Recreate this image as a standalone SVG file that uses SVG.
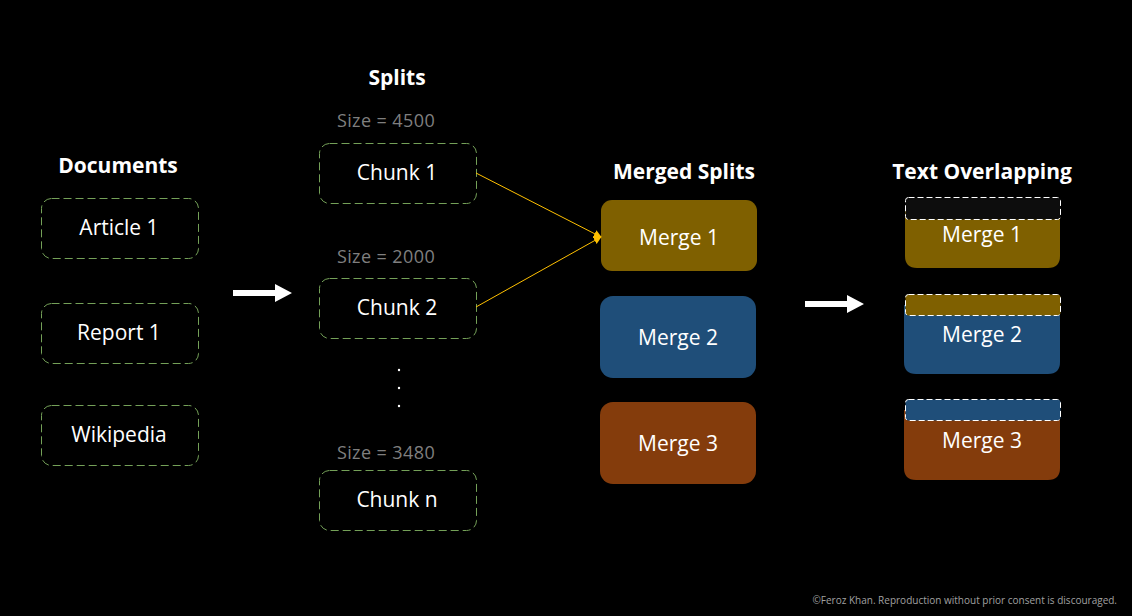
<svg xmlns="http://www.w3.org/2000/svg" width="1132" height="616" viewBox="0 0 1132 616">
<style>
text{font-family:"Open Sans","Noto Sans",sans-serif;}
.title{fill:#fff;font-weight:bold;font-size:21px;text-anchor:middle;}
.lbl{fill:#fff;font-size:21px;text-anchor:middle;}
.size{fill:#7f7f7f;font-size:18px;text-anchor:middle;letter-spacing:0.4px;}
.doc{fill:#000;stroke:#74a058;stroke-width:1;stroke-dasharray:8 4;}
.band{stroke:#fff;stroke-width:1;stroke-dasharray:6 3;}
.conn{stroke:#ffc000;stroke-width:1;fill:none;}
</style>
<defs>
<marker id="ah" viewBox="0 0 10 10" refX="9" refY="5" markerWidth="8" markerHeight="8" orient="auto" markerUnits="userSpaceOnUse">
<path d="M0,0 L10,5 L0,10 z" fill="#ffc000"/>
</marker>
</defs>
<rect width="1132" height="616" fill="#000"/>

<text class="title" x="118" y="173">Documents</text>
<text class="title" x="397" y="85">Splits</text>
<text class="title" x="684" y="179">Merged Splits</text>
<text class="title" x="982" y="179">Text Overlapping</text>

<g id="article1"><rect class="doc" x="41.5" y="198.5" width="157" height="60" rx="10"/><text class="lbl" x="119" y="235">Article 1</text></g>
<g id="report1"><rect class="doc" x="41.5" y="303.5" width="157" height="60" rx="10"/><text class="lbl" x="119" y="340">Report 1</text></g>
<g id="wikipedia"><rect class="doc" x="41.5" y="405.5" width="157" height="60" rx="10"/><text class="lbl" x="119" y="442">Wikipedia</text></g>

<g id="chunk1"><text class="size" x="386" y="127">Size = 4500</text><rect class="doc" x="319.5" y="143.5" width="157" height="60" rx="10"/><text class="lbl" x="397" y="180">Chunk 1</text></g>
<g id="chunk2"><text class="size" x="386" y="263">Size = 2000</text><rect class="doc" x="319.5" y="278.5" width="157" height="60" rx="10"/><text class="lbl" x="397" y="315">Chunk 2</text></g>
<g id="dots" fill="#fff"><circle cx="399" cy="370" r="1.2"/><circle cx="399" cy="388" r="1.2"/><circle cx="399" cy="406" r="1.2"/></g>
<g id="chunkn"><text class="size" x="386" y="459">Size = 3480</text><rect class="doc" x="319.5" y="470.5" width="157" height="60" rx="10"/><text class="lbl" x="397" y="507">Chunk n</text></g>

<g id="merge1"><rect x="601" y="200" width="156" height="71" rx="11" fill="#7f6000"/><text class="lbl" x="679" y="245">Merge 1</text></g>
<g id="merge2"><rect x="600" y="296" width="156" height="82" rx="13" fill="#1f4e79"/><text class="lbl" x="678" y="345">Merge 2</text></g>
<g id="merge3"><rect x="600" y="402" width="156" height="82" rx="13" fill="#843c0c"/><text class="lbl" x="678" y="451">Merge 3</text></g>

<g id="overlap1"><path d="M905,208 H1060 V256 Q1060,268 1048,268 H917 Q905,268 905,256 Z" fill="#7f6000"/><rect class="band" x="905.5" y="197.5" width="155" height="22" rx="3" fill="#0d0d0d"/><text class="lbl" x="982" y="242">Merge 1</text></g>
<g id="overlap2"><path d="M904,305 H1060 V362 Q1060,374 1048,374 H916 Q904,374 904,362 Z" fill="#1f4e79"/><rect class="band" x="905.5" y="294.5" width="155" height="21" rx="3" fill="#7f6000"/><text class="lbl" x="982" y="342">Merge 2</text></g>
<g id="overlap3"><path d="M904,410 H1060 V468 Q1060,480 1048,480 H916 Q904,480 904,468 Z" fill="#843c0c"/><rect class="band" x="905.5" y="399.5" width="155" height="21" rx="3" fill="#1f4e79"/><text class="lbl" x="982" y="448">Merge 3</text></g>

<g id="connectors">
<line class="conn" x1="476" y1="173" x2="601" y2="237" marker-end="url(#ah)"/>
<line class="conn" x1="476" y1="307" x2="601" y2="237" marker-end="url(#ah)"/>
<path d="M233,290 H275 V284 L292,293 L275,302 V296 H233 Z" fill="#fff"/>
<path d="M805,301 H847 V295 L864,304 L847,313 V307 H805 Z" fill="#fff"/>
</g>

<text x="1117" y="604" fill="#a0a0a0" font-size="10" text-anchor="end">©Feroz Khan. Reproduction without prior consent is discouraged.</text>
</svg>
